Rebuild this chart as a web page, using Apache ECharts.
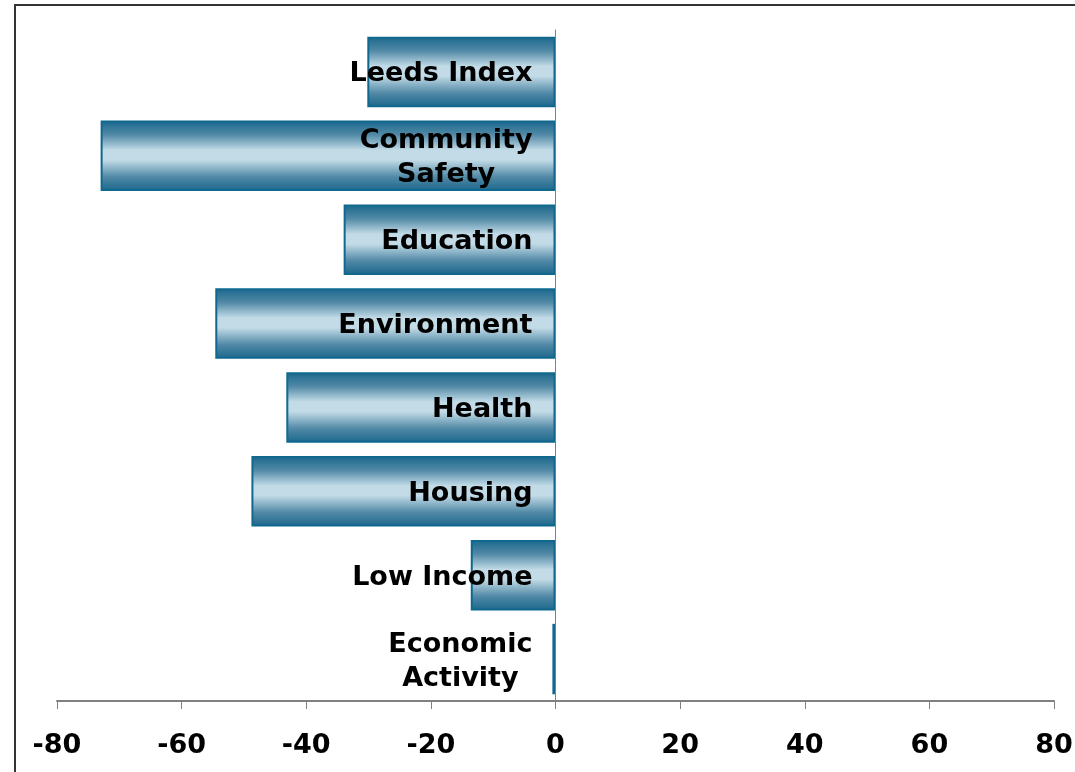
<!DOCTYPE html>
<html>
<head>
<meta charset="utf-8">
<script src="https://cdn.jsdelivr.net/npm/echarts@6/dist/echarts.min.js"></script>
<style>
html,body{margin:0;padding:0;background:#fff;}
#chart{width:1075px;height:772px;}
</style>
</head>
<body>
<div id="chart"></div>
<script>
const categories = ['Leeds Index', 'Community\nSafety', 'Education', 'Environment', 'Health', 'Housing', 'Low Income', 'Economic\nActivity'];
const values = [-30.2, -73.0, -34.0, -54.6, -43.2, -48.8, -13.6, -0.5];
const xTicks = { min: -80, max: 80, interval: 20 };

const FONT = '"DejaVu Sans", Verdana, sans-serif';
const GRID_LEFT = 57, GRID_RIGHT = 21;
const chart = echarts.init(document.getElementById('chart'));
// place the category axis on the value-axis zero via the library's own scale
const plotW = 1075 - GRID_LEFT - GRID_RIGHT;
const zeroOffset = -plotW * (0 - xTicks.min) / (xTicks.max - xTicks.min);
chart.setOption({
  animation: false,
  backgroundColor: '#ffffff',
  graphic: [{
    type: 'rect', z: 100, silent: true,
    shape: { x: 15, y: 5, width: 1200, height: 900 },
    style: { fill: 'none', stroke: '#333333', lineWidth: 2 }
  }],
  grid: { left: GRID_LEFT, right: GRID_RIGHT, top: 30, bottom: 71, containLabel: false, outerBoundsMode: 'none' },
  xAxis: {
    type: 'value', min: xTicks.min, max: xTicks.max, interval: xTicks.interval,
    splitLine: { show: false },
    axisLine: { show: true, onZero: false, lineStyle: { color: '#808080', width: 2 } },
    axisTick: { show: true, length: 8, lineStyle: { color: '#808080', width: 1 } },
    axisLabel: { color: '#000', fontSize: 27, fontWeight: 'bold', fontFamily: FONT, margin: 31 }
  },
  yAxis: {
    type: 'category', data: categories, inverse: true, z: 10,
    position: 'left', offset: zeroOffset,
    axisLine: { show: true, onZero: false, lineStyle: { color: '#808080', width: 1 } },
    axisTick: { show: false },
    splitLine: { show: false },
    axisLabel: {
      color: '#000', fontSize: 27, fontWeight: 'bold', fontFamily: FONT, margin: 23, lineHeight: 34,
      padding: [5, 0, 0, 0],
      formatter: v => v.split('\n').map(s => '{c|' + s + '}').join('\n'),
      rich: { c: { align: 'center', color: '#000', fontSize: 27, fontWeight: 'bold', fontFamily: FONT, lineHeight: 34 } }
    }
  },
  series: [{
    type: 'bar', data: values, barCategoryGap: '16%',
    itemStyle: {
      borderColor: '#11688f', borderWidth: 2,
      color: new echarts.graphic.LinearGradient(0, 0, 0, 1, [
        { offset: 0, color: '#1a678c' },
        { offset: 0.2, color: '#5189a6' },
        { offset: 0.42, color: '#c2dbe7' },
        { offset: 0.56, color: '#c2dbe7' },
        { offset: 0.8, color: '#5189a6' },
        { offset: 1, color: '#1a678c' }
      ])
    }
  }]
});
</script>
</body>
</html>
